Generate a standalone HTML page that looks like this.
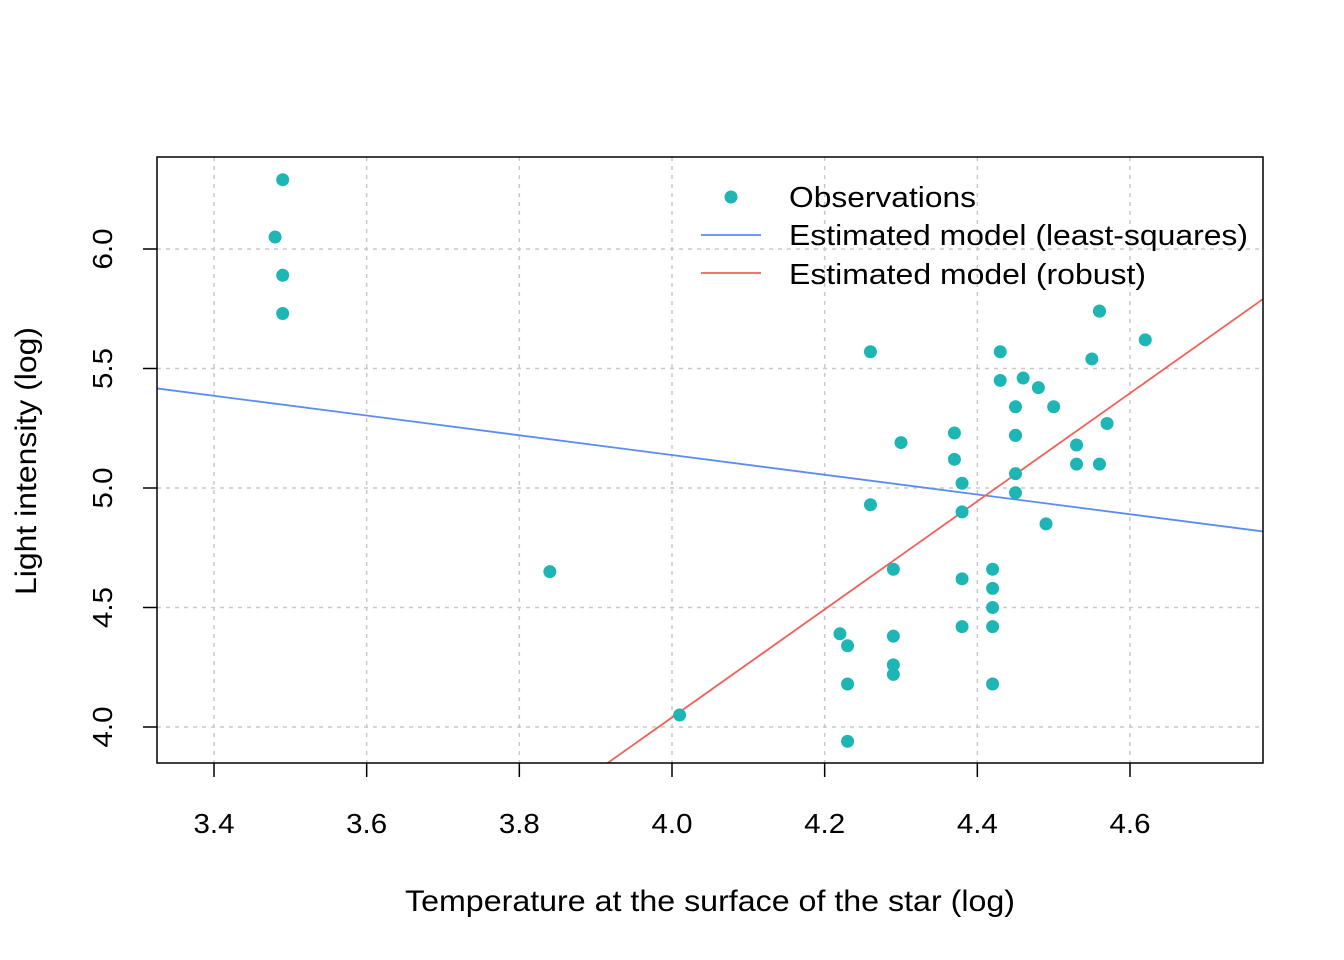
<!DOCTYPE html>
<html><head><meta charset="utf-8"><style>html,body{margin:0;background:#fff;overflow:hidden;width:1344px;height:960px}svg{display:block}text{font-family:"Liberation Sans",Arial,sans-serif}</style></head>
<body>
<svg id="c" width="1344" height="960" xmlns="http://www.w3.org/2000/svg"></svg>
<script>
const temps=[4.37,4.56,4.26,4.56,4.30,4.46,3.84,4.57,4.26,4.37,3.49,4.43,4.48,4.01,4.29,4.42,4.23,4.42,4.23,3.49,4.29,4.29,4.42,4.49,4.38,4.42,4.29,4.38,4.22,3.48,4.38,4.56,4.45,3.49,4.23,4.62,4.53,4.45,4.53,4.43,4.38,4.45,4.50,4.45,4.55,4.45,4.42];
const lights=[5.23,5.74,4.93,5.74,5.19,5.46,4.65,5.27,5.57,5.12,5.73,5.45,5.42,4.05,4.26,4.58,3.94,4.18,4.18,5.89,4.38,4.22,4.42,4.85,5.02,4.66,4.66,4.90,4.39,6.05,4.42,5.10,5.22,6.29,4.34,5.62,5.10,5.22,5.18,5.57,4.62,5.06,5.34,5.34,5.54,4.98,4.50];
const lsCoef=[6.79,-0.413];
const robustCoef=[-5.004,2.261];
const xTicks=["3.4","3.6","3.8","4.0","4.2","4.4","4.6"];
const yTicks=["4.0","4.5","5.0","5.5","6.0"];
const NS="http://www.w3.org/2000/svg";
const svg=document.getElementById('c');
const L=157,R=1263,T=157,B=763;
const X=v=>214+(v-3.4)*763.33;
const Y=v=>249+(6.0-v)*239;
const xInv=p=>3.4+(p-214)/763.33;
function mk(t,a,p){const e=document.createElementNS(NS,t);for(const k in a)e.setAttribute(k,a[k]);(p||svg).appendChild(e);return e;}
const defs=mk('defs',{});const cp=mk('clipPath',{id:'clip'},defs);mk('rect',{x:L,y:T,width:R-L,height:B-T},cp);
const grid=mk('g',{stroke:'#c8c8c8','stroke-width':1.5,'stroke-dasharray':'4,5'});


xTicks.forEach(t=>mk('line',{x1:X(+t),x2:X(+t),y1:T,y2:B},grid));
yTicks.forEach(t=>mk('line',{x1:L,x2:R,y1:Y(+t),y2:Y(+t)},grid));
function line(c,col,name){const x0=xInv(L),x1=xInv(R);const e=mk('line',{x1:L,x2:R,y1:Y(c[0]+c[1]*x0),y2:Y(c[0]+c[1]*x1),stroke:col,'stroke-width':1.8,'clip-path':'url(#clip)'});

}
line(lsCoef,'#5b8cf5','least-squares-line');
line(robustCoef,'#f0605a','robust-line');
temps.forEach((t,i)=>{const c=mk('circle',{cx:X(t),cy:Y(lights[i]),r:6.5,fill:'#1eb5b5'});

});
const box=mk('rect',{x:L,y:T,width:R-L,height:B-T,fill:'none',stroke:'#000','stroke-width':1.5});


xTicks.forEach(t=>{mk('line',{x1:X(+t),x2:X(+t),y1:B,y2:B+14,stroke:'#000','stroke-width':1.5});
const e=mk('text',{x:X(+t),y:833,'font-size':28,'text-anchor':'middle',textLength:41,lengthAdjust:'spacingAndGlyphs'});e.textContent=t;

});
yTicks.forEach(t=>{mk('line',{x1:L-14,x2:L,y1:Y(+t),y2:Y(+t),stroke:'#000','stroke-width':1.5});
const e=mk('text',{x:0,y:0,'font-size':28,'text-anchor':'middle',textLength:41,lengthAdjust:'spacingAndGlyphs',transform:`translate(112,${Y(+t)}) rotate(-90)`});e.textContent=t;

});
let e=mk('text',{x:710,y:911,'font-size':30,'text-anchor':'middle',textLength:610,lengthAdjust:'spacingAndGlyphs'});e.textContent='Temperature at the surface of the star (log)';


e=mk('text',{x:0,y:0,'font-size':30,'text-anchor':'middle',textLength:268,lengthAdjust:'spacingAndGlyphs',transform:'translate(36,461) rotate(-90)'});e.textContent='Light intensity (log)';


const lg=mk('g',{});


mk('circle',{cx:731,cy:197,r:6.5,fill:'#1eb5b5'},lg);
mk('line',{x1:701,x2:761,y1:235,y2:235,stroke:'#5b8cf5','stroke-width':1.8},lg);
mk('line',{x1:701,x2:761,y1:273,y2:273,stroke:'#f0605a','stroke-width':1.8},lg);
[['Observations',207,187],['Estimated model (least-squares)',245,459],['Estimated model (robust)',284,357]].forEach(([s,y,w])=>{const t=mk('text',{x:789,y:y,'font-size':29,textLength:w,lengthAdjust:'spacingAndGlyphs'},lg);t.textContent=s;

});
</script>
</body></html>
